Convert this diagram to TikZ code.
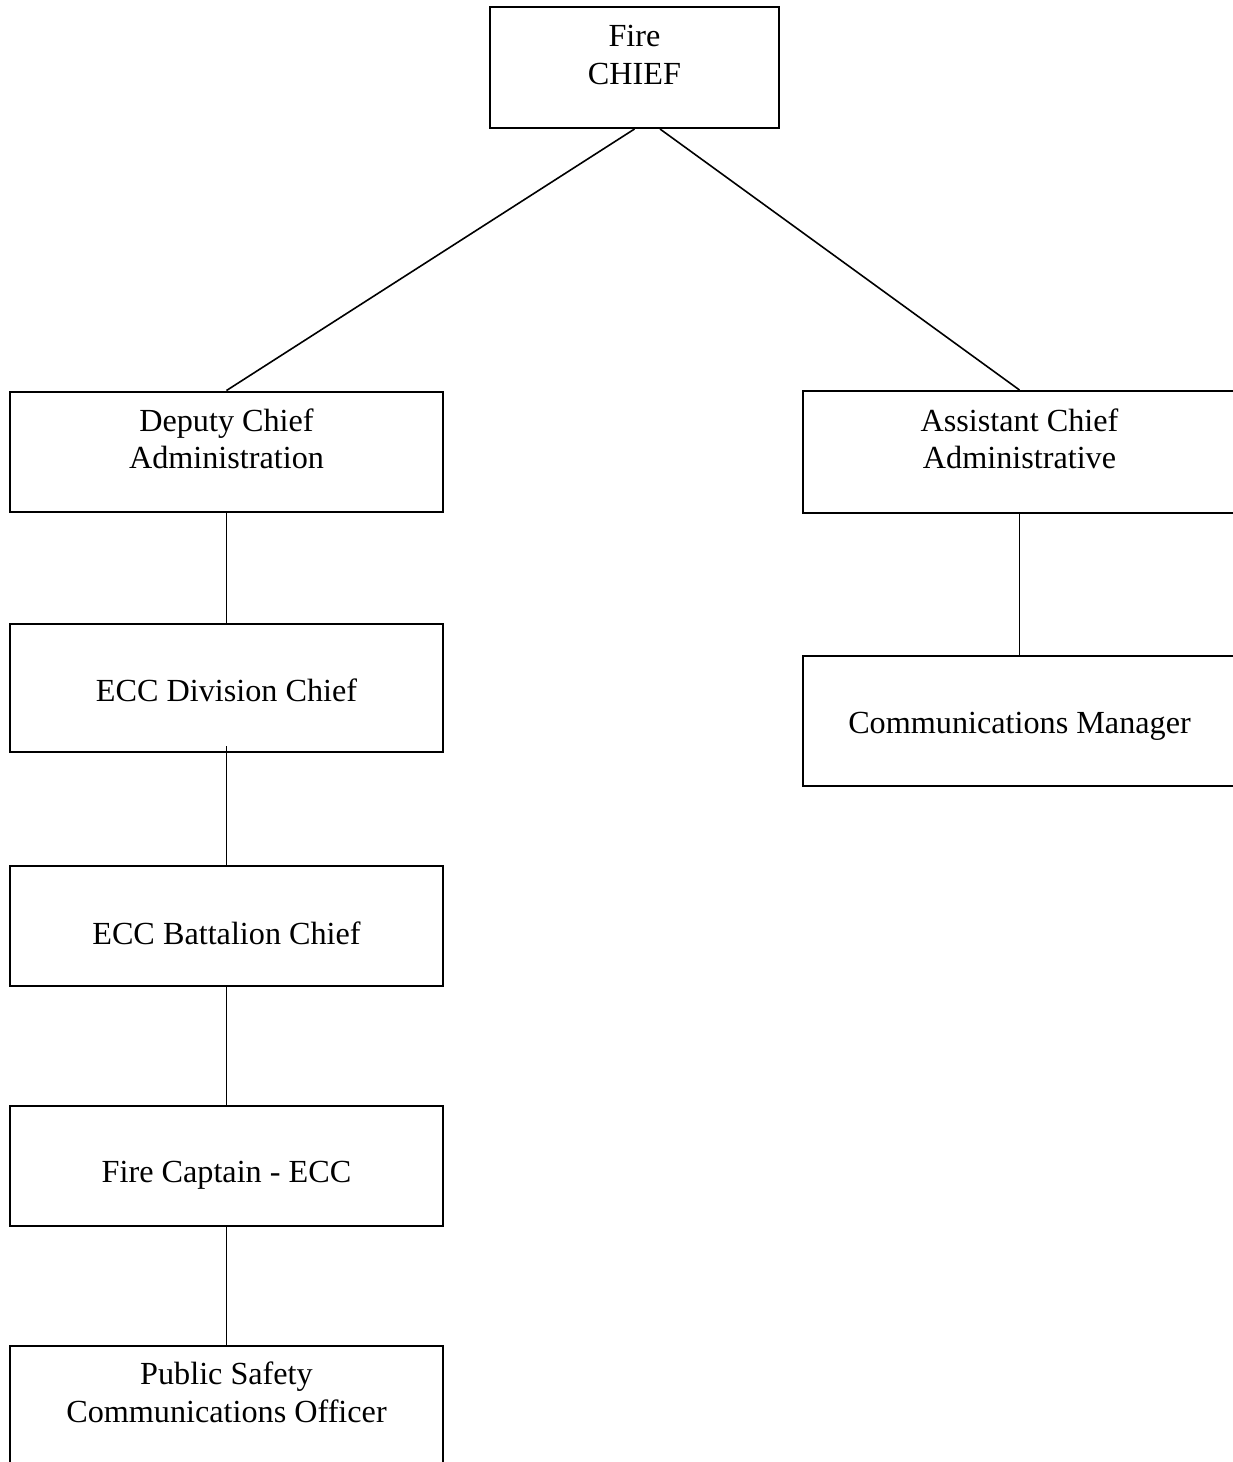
\documentclass[tikz,border=0pt]{standalone}
\usepackage{fontspec}
\setmainfont{Liberation Serif}
\usetikzlibrary{positioning}

\tikzset{
  box/.style={draw, line width=2pt, minimum width=433pt, inner sep=0pt},
  lbl/.style={align=center, inner sep=0pt, font=\fontsize{32.2}{37.5}\selectfont},
  link/.style={line width=1.6pt}
}

\begin{document}
\begin{tikzpicture}[x=1pt,y=1pt]
  \useasboundingbox (0,0) rectangle (1233,-1462);
  \fill[white] (0,0) rectangle (1233,-1462);
  \clip (0,0) rectangle (1233,-1462);

  % boxes
  \node[box, minimum width=289pt, minimum height=121pt] (fire) at (634.5,-67.5) {};
  \node[box, minimum height=120pt] (dep) at (226.5,-451.5) {};
  \node[box, minimum height=122pt] (asst) at (1019.5,-452) {};
  \node[box, minimum height=128pt] (div) at (226.5,-688) {};
  \node[box, minimum height=130pt] (mgr) at (1019.5,-721) {};
  \node[box, minimum height=120pt] (bat) at (226.5,-925.5) {};
  \node[box, minimum height=120pt] (cap) at (226.5,-1166) {};
  \node[box, minimum height=121pt] (psc) at (226.5,-1406.5) {};

  % labels
  \node[lbl, below=19pt of fire.north] (firet) {Fire\\CHIEF};
  \node[lbl, below=18pt of dep.north] (dept) {Deputy Chief\\Administration};
  \node[lbl, below=18.5pt of asst.north] (asstt) {Assistant Chief\\Administrative};
  \node[lbl, below=56pt of div.north] (divt) {ECC Division Chief};
  \node[lbl, below=57pt of mgr.north] (mgrt) {Communications Manager};
  \node[lbl, below=57pt of bat.north] (batt) {ECC Battalion Chief};
  \node[lbl, below=56pt of cap.north] (capt) {Fire Captain - ECC};
  \node[lbl, below=17pt of psc.north] (psct) {Public Safety\\Communications Officer};

  % connectors
  \draw[link] (fire.south) -- (dep.north);
  \draw[link] ([xshift=25.5pt]fire.south) -- (asst.north);
  \draw[link] (dep.south) -- (div.north);
  \draw[link] (asst.south) -- (mgr.north);
  \draw[link] ([yshift=7pt]div.south) -- (bat.north);
  \draw[link] (bat.south) -- (cap.north);
  \draw[link] (cap.south) -- (psc.north);
\end{tikzpicture}
\end{document}
